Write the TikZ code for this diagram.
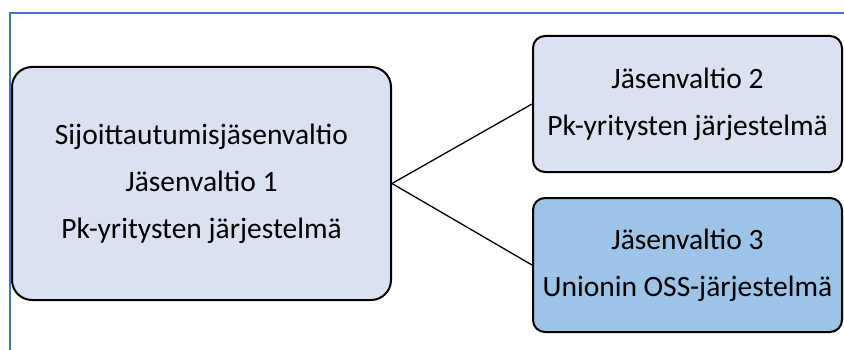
\documentclass[tikz,border=0pt]{standalone}
\usepackage{fontspec}
\setmainfont{Carlito}
\definecolor{framebl}{HTML}{4472C4}
\definecolor{paleblue}{HTML}{DAE1F1}
\definecolor{midblue}{HTML}{9DC3E6}
\begin{document}
\begin{tikzpicture}[x=1pt,y=1pt,
  box/.style={draw=black,line width=2pt,align=center,inner sep=0pt,
    font=\fontsize{29.5}{47}\selectfont},
  link/.style={draw=black,line width=1.3pt}]
\useasboundingbox (0,0) rectangle (844,349);
% outer frame (only top and left edges fall inside the page)
\draw[framebl,line width=2pt] (9.5,-10) -- (9.5,336) -- (860,336);
% state boxes
\node[box,fill=paleblue,rounded corners=20pt,minimum width=379pt,minimum height=233pt]
  (home) at (201.5,165.5) {Sijoittautumisjäsenvaltio\\Jäsenvaltio 1\\Pk-yritysten järjestelmä};
\node[box,fill=paleblue,rounded corners=12pt,minimum width=309pt,minimum height=136pt]
  (ms2) at (687.5,245) {Jäsenvaltio 2\\Pk-yritysten järjestelmä};
\node[box,fill=midblue,rounded corners=12pt,minimum width=309pt,minimum height=134pt]
  (ms3) at (687.5,84) {Jäsenvaltio 3\\Unionin OSS-järjestelmä};
% connectors
\draw[link] (home.east) -- (ms2.west);
\draw[link] (home.east) -- (ms3.west);
\end{tikzpicture}
\end{document}
